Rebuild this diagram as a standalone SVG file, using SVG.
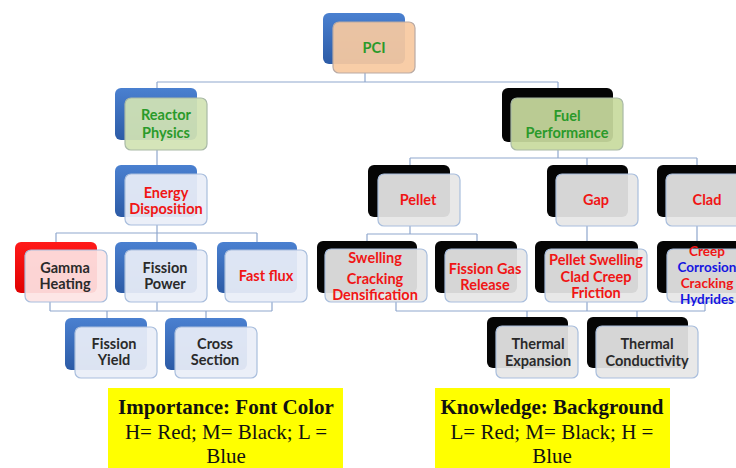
<svg xmlns="http://www.w3.org/2000/svg" width="736" height="468" viewBox="0 0 736 468">
<defs>
<linearGradient id="gBlue" x1="0" y1="0" x2="0" y2="1"><stop offset="0" stop-color="#4a80d0"/><stop offset="1" stop-color="#2c5ba6"/></linearGradient>
<linearGradient id="gRed" x1="0" y1="0" x2="0" y2="1"><stop offset="0" stop-color="#ff1a1a"/><stop offset="1" stop-color="#e00000"/></linearGradient>
<style>
.bk{stroke:none}
.blue{fill:url(#gBlue)}
.red{fill:url(#gRed)}
.black{fill:#050505}
.fr{stroke:#a9bedd;stroke-width:1.2;fill-opacity:0.93}
.lb{fill:#e9eef7}
.pk{fill:#fde4e4}
.gr{fill:#e6e6e6}
.peach{fill:#f8c9a0;stroke:#b9aaa4}
.lg{fill:#d2e3b4;stroke:#a9b9a6}
.og{fill:#c8da9e;stroke:#a9b9a6}
.t{font-family:Lato,"Liberation Sans",sans-serif;font-weight:bold;font-size:14.5px;text-anchor:middle;dominant-baseline:central}
.sm{font-size:13.5px}
.tg{fill:#2a9a2a}
.tr{fill:#f01515}
.tk{fill:#2a2a2a}
.tb{fill:#1515e0}
.con{fill:none;stroke:#8fa7cd;stroke-width:1.2}
.leg{fill:#ffff00}
.lt{font-family:"Liberation Serif",serif;font-size:21px;text-anchor:middle;dominant-baseline:central;fill:#111}
</style>
</defs>
<rect width="736" height="468" fill="#ffffff"/>
<g id="connectors" class="con">
<path d="M365 73V82M157 82H558M157 82V98M558 82V98"/>
<path d="M157 150V174"/>
<path d="M157 225V233M56 233H257M56 233V250M157 233V250M257 233V250"/>
<path d="M50 302V311M157 302V311M272 302V311M50 311H272M107 311V327M206 311V327"/>
<path d="M558 150V158M410 158H697M410 158V174M587 158V174M697 158V174"/>
<path d="M410 226V234M367 234H477M367 234V249M477 234V249"/>
<path d="M587 226V249M697 226V249"/>
<path d="M396 302V311M587 302V311M705 302V311M396 311H705M527 311V326M637 311V326"/>
</g>
<g id="n-pci"><rect class="bk blue" x="323" y="13" width="82" height="51" rx="6"/><rect class="fr peach" x="333" y="22" width="82" height="51" rx="6"/><text class="t tg" x="374" y="47">PCI</text></g>
<g id="n-reactor"><rect class="bk blue" x="115" y="88" width="82" height="52" rx="6"/><rect class="fr lg" x="125" y="98" width="82" height="52" rx="6"/><text class="t tg" x="166" y="114">Reactor</text><text class="t tg" x="166" y="132">Physics</text></g>
<g id="n-fuel"><rect class="bk black" x="502" y="88" width="111" height="54" rx="6"/><rect class="fr og" x="511" y="98" width="112" height="52" rx="6"/><text class="t tg" x="567" y="115">Fuel</text><text class="t tg" x="567" y="132">Performance</text></g>
<g id="n-energy"><rect class="bk blue" x="115" y="165" width="82" height="52" rx="6"/><rect class="fr lb" x="125" y="174" width="82" height="51" rx="6"/><text class="t tr" x="166" y="192">Energy</text><text class="t tr" x="166" y="208">Disposition</text></g>
<g id="n-gamma"><rect class="bk red" x="15" y="242" width="82" height="51" rx="6"/><rect class="fr pk" x="25" y="250" width="82" height="52" rx="6"/><text class="t tk" x="65" y="267">Gamma</text><text class="t tk" x="65" y="283">Heating</text></g>
<g id="n-fpower"><rect class="bk blue" x="115" y="242" width="82" height="51" rx="6"/><rect class="fr lb" x="125" y="250" width="82" height="52" rx="6"/><text class="t tk" x="165" y="267">Fission</text><text class="t tk" x="165" y="283">Power</text></g>
<g id="n-fastflux"><rect class="bk blue" x="217" y="242" width="80" height="51" rx="6"/><rect class="fr lb" x="225" y="250" width="82" height="52" rx="6"/><text class="t tr" x="266" y="275">Fast flux</text></g>
<g id="n-fyield"><rect class="bk blue" x="65" y="318" width="82" height="52" rx="6"/><rect class="fr lb" x="75" y="327" width="82" height="51" rx="6"/><text class="t tk" x="114" y="343">Fission</text><text class="t tk" x="114" y="359">Yield</text></g>
<g id="n-cross"><rect class="bk blue" x="165" y="318" width="82" height="52" rx="6"/><rect class="fr lb" x="175" y="327" width="82" height="51" rx="6"/><text class="t tk" x="215" y="343">Cross</text><text class="t tk" x="215" y="359">Section</text></g>
<g id="n-pellet"><rect class="bk black" x="368" y="165" width="82" height="52" rx="6"/><rect class="fr gr" x="378" y="174" width="82" height="52" rx="6"/><text class="t tr" x="418" y="199">Pellet</text></g>
<g id="n-gap"><rect class="bk black" x="547" y="165" width="81" height="52" rx="6"/><rect class="fr gr" x="556" y="174" width="82" height="52" rx="6"/><text class="t tr" x="596" y="199">Gap</text></g>
<g id="n-clad"><rect class="bk black" x="657" y="165" width="90" height="52" rx="6"/><rect class="fr gr" x="666" y="174" width="90" height="52" rx="6"/><text class="t tr" x="707" y="199">Clad</text></g>
<g id="n-swelling"><rect class="bk black" x="317" y="241" width="100" height="52" rx="6"/><rect class="fr gr" x="325" y="249" width="102" height="53" rx="6"/><text class="t tr" x="375" y="257">Swelling</text><text class="t tr" x="375" y="278">Cracking</text><text class="t tr" x="375" y="294">Densification</text></g>
<g id="n-fgr"><rect class="bk black" x="435" y="241" width="82" height="52" rx="6"/><rect class="fr gr" x="445" y="249" width="82" height="53" rx="6"/><text class="t tr" x="485" y="268">Fission Gas</text><text class="t tr" x="485" y="284">Release</text></g>
<g id="n-pswell"><rect class="bk black" x="535" y="241" width="103" height="52" rx="6"/><rect class="fr gr" x="545" y="249" width="102" height="53" rx="6"/><text class="t tr" x="596" y="259">Pellet Swelling</text><text class="t tr" x="596" y="276">Clad Creep</text><text class="t tr" x="596" y="292">Friction</text></g>
<g id="n-cladchild"><rect class="bk black" x="657" y="241" width="90" height="52" rx="6"/><rect class="fr gr" x="667" y="249" width="90" height="53" rx="6"/><text class="t sm tr" x="707" y="251">Creep</text><text class="t sm tb" x="707" y="267">Corrosion</text><text class="t sm tr" x="707" y="283">Cracking</text><text class="t sm tb" x="707" y="299">Hydrides</text></g>
<g id="n-texp"><rect class="bk black" x="487" y="317" width="81" height="51" rx="6"/><rect class="fr gr" x="496" y="326" width="82" height="52" rx="6"/><text class="t tk" x="538" y="343">Thermal</text><text class="t tk" x="538" y="360">Expansion</text></g>
<g id="n-tcond"><rect class="bk black" x="587" y="317" width="101" height="51" rx="6"/><rect class="fr gr" x="596" y="326" width="102" height="52" rx="6"/><text class="t tk" x="647" y="343">Thermal</text><text class="t tk" x="647" y="360">Conductivity</text></g>
<g id="legend-importance"><rect class="leg" x="108" y="388" width="235" height="80"/><text class="lt" x="226" y="407" font-weight="bold">Importance: Font Color</text><text class="lt" x="226" y="432">H= Red; M= Black; L =</text><text class="lt" x="226" y="456">Blue</text></g>
<g id="legend-knowledge"><rect class="leg" x="435" y="388" width="235" height="80"/><text class="lt" x="552" y="407" font-weight="bold">Knowledge: Background</text><text class="lt" x="552" y="432">L= Red; M= Black; H =</text><text class="lt" x="552" y="456">Blue</text></g>
</svg>
